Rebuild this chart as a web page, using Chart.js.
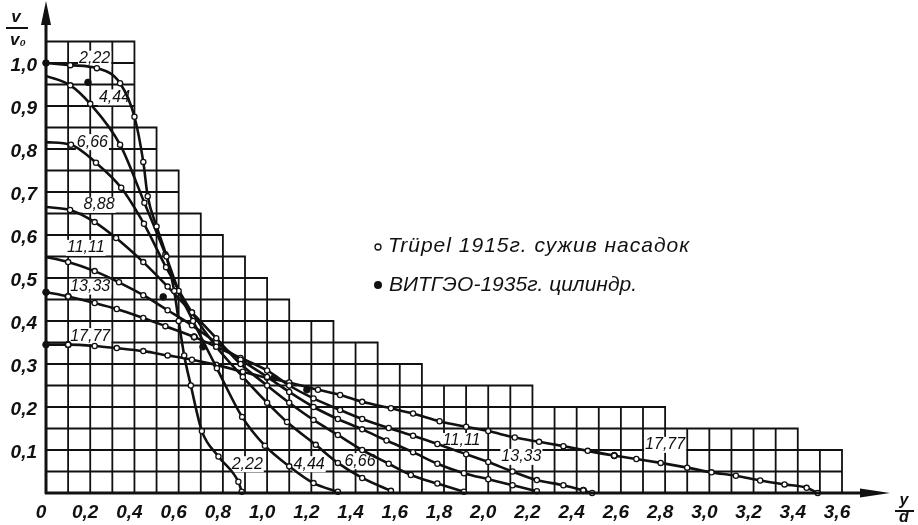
<!DOCTYPE html>
<html>
<head>
<meta charset="utf-8">
<script src="https://cdn.jsdelivr.net/npm/chart.js@4.4.1/dist/chart.umd.min.js"></script>
<style>
html, body { margin: 0; padding: 0; background: #fff; }
#wrap { width: 918px; height: 525px; }
</style>
</head>
<body>
<div id="wrap"><canvas id="chart" width="918" height="525"></canvas></div>
<script>
// velocity profiles v/v0 over y/d, one curve per x/d
const c222 = [[0,1.0],[0.11,0.995],[0.23,0.988],[0.335,0.953],[0.40,0.875],[0.44,0.77],[0.46,0.69],[0.50,0.62],[0.545,0.55],[0.58,0.47],[0.60,0.40],[0.625,0.32],[0.655,0.25],[0.705,0.144],[0.78,0.085],[0.87,0.026],[0.885,0.003]];
const c444 = [[0,0.97],[0.11,0.948],[0.2,0.905],[0.335,0.81],[0.445,0.675],[0.54,0.555],[0.60,0.47],[0.665,0.40],[0.773,0.29],[0.887,0.177],[0.99,0.11],[1.1,0.062],[1.21,0.023],[1.32,0.003]];
const c666 = [[0,0.816],[0.113,0.81],[0.226,0.768],[0.34,0.71],[0.443,0.626],[0.543,0.525],[0.66,0.42],[0.77,0.34],[0.89,0.27],[1.0,0.21],[1.09,0.165],[1.22,0.112],[1.32,0.07],[1.43,0.035],[1.56,0.005]];
const c888 = [[0,0.665],[0.109,0.658],[0.22,0.63],[0.317,0.593],[0.44,0.537],[0.55,0.48],[0.66,0.42],[0.77,0.36],[0.88,0.30],[1.0,0.25],[1.1,0.21],[1.21,0.17],[1.32,0.135],[1.43,0.1],[1.55,0.068],[1.65,0.042],[1.77,0.022],[1.89,0.003]];
const c1111 = [[0,0.549],[0.1,0.537],[0.22,0.516],[0.33,0.49],[0.44,0.46],[0.55,0.425],[0.66,0.39],[0.77,0.35],[0.88,0.31],[1.0,0.27],[1.1,0.235],[1.21,0.2],[1.32,0.172],[1.43,0.148],[1.54,0.122],[1.66,0.095],[1.77,0.068],[1.89,0.046],[2.0,0.032],[2.11,0.018],[2.22,0.004]];
const c1333 = [[0,0.467],[0.1,0.457],[0.22,0.442],[0.32,0.428],[0.44,0.407],[0.54,0.388],[0.67,0.363],[0.77,0.34],[0.88,0.314],[1.0,0.285],[1.1,0.25],[1.21,0.22],[1.33,0.193],[1.43,0.172],[1.55,0.151],[1.66,0.133],[1.77,0.114],[1.9,0.09],[2.0,0.072],[2.11,0.05],[2.22,0.03],[2.34,0.018],[2.43,0.006],[2.47,0.0]];
const c1777 = [[0,0.345],[0.1,0.345],[0.22,0.342],[0.32,0.337],[0.44,0.33],[0.55,0.32],[0.66,0.31],[0.77,0.298],[0.89,0.282],[1.0,0.268],[1.1,0.257],[1.23,0.24],[1.33,0.228],[1.43,0.212],[1.56,0.197],[1.66,0.185],[1.78,0.167],[1.9,0.154],[2.0,0.144],[2.12,0.129],[2.23,0.119],[2.34,0.109],[2.45,0.098],[2.57,0.087],[2.67,0.079],[2.78,0.07],[2.9,0.059],[3.01,0.048],[3.12,0.04],[3.23,0.029],[3.34,0.02],[3.44,0.012],[3.49,0.0]];

const profiles = [c222, c444, c666, c888, c1111, c1333, c1777];
const profileNames = ['2,22', '4,44', '6,66', '8,88', '11,11', '13,33', '17,77'];

// filled dots, VITGEO 1935 cylinder runs
const vitgeo = [[0,1.0],[0.19,0.955],[0,0.467],[0.1,0.457],[0,0.345],[0.1,0.345],[0.53,0.456],[0.67,0.363],[0.71,0.34],[1.03,0.267],[1.18,0.24],[2.57,0.087],[2.43,0.006]];

const legendNames = ['Trüpel 1915г. сужив насадок', 'ВИТГЭО-1935г. цилиндр.'];

// stepped outline of the printed grid: right edge of each step and its top
const stepRight = [0.4, 0.5, 0.6, 0.7, 0.8, 0.9, 1.0, 1.1, 1.3, 1.5, 1.7, 2.2, 2.8, 3.4, 3.6];
const stepTop   = [1.05, 0.85, 0.75, 0.65, 0.6, 0.55, 0.5, 0.45, 0.4, 0.35, 0.3, 0.25, 0.2, 0.15, 0.1];

// curve labels: text and where it sits (y/d, v/v0)
const curveLabels = [
    ['2,22', 0.22, 1.01], ['4,44', 0.31, 0.92], ['6,66', 0.21, 0.816], ['8,88', 0.24, 0.67],
    ['11,11', 0.18, 0.57], ['13,33', 0.2, 0.48], ['17,77', 0.2, 0.365],
    ['2,22', 0.91, 0.067], ['4,44', 1.19, 0.067], ['6,66', 1.42, 0.074],
    ['11,11', 1.88, 0.121], ['13,33', 2.15, 0.084], ['17,77', 2.8, 0.112]
];

const INK = '#111';
const tickFont = { family: '"Liberation Sans", Arial, sans-serif', size: 19, weight: 'bold', style: 'italic' };

function fmt(v) {
    if (Math.abs(v) < 1e-9) return '0';
    return v.toFixed(1).replace('.', ',');
}

const stairGrid = {
    id: 'stairGrid',
    beforeDatasetsDraw(chart) {
        const ctx = chart.ctx;
        const x = chart.scales.x, y = chart.scales.y;
        const topAt = function (v) {
            for (let i = 0; i < stepRight.length; i++) if (v <= stepRight[i] + 1e-6) return stepTop[i];
            return 0;
        };
        const rightAt = function (v) {
            let r = 0;
            for (let i = 0; i < stepRight.length; i++) if (stepTop[i] >= v - 1e-6) r = stepRight[i];
            return r;
        };
        ctx.save();
        ctx.strokeStyle = INK;
        ctx.lineWidth = 1.8;
        ctx.beginPath();
        for (let k = 1; k <= 36; k++) {
            const v = k / 10;
            const px = x.getPixelForValue(v);
            ctx.moveTo(px, y.getPixelForValue(0));
            ctx.lineTo(px, y.getPixelForValue(topAt(v)) - 0.9);
        }
        for (let k = 1; k <= 21; k++) {
            const v = k * 0.05;
            const py = y.getPixelForValue(v);
            ctx.moveTo(x.getPixelForValue(0), py);
            ctx.lineTo(x.getPixelForValue(rightAt(v)) + 0.9, py);
        }
        ctx.stroke();

        // curve labels on white patches
        ctx.font = 'italic 16px "Liberation Sans", Arial, sans-serif';
        ctx.textAlign = 'center';
        ctx.textBaseline = 'middle';
        curveLabels.forEach(function (l) {
            const px = x.getPixelForValue(l[1]), py = y.getPixelForValue(l[2]);
            const w = ctx.measureText(l[0]).width;
            ctx.fillStyle = '#fff';
            ctx.fillRect(px - w / 2 - 1, py - 8, w + 2, 16);
            ctx.fillStyle = INK;
            ctx.fillText(l[0], px, py);
        });
        ctx.restore();
    },
    afterDatasetsDraw(chart) {
        const ctx = chart.ctx;
        const x = chart.scales.x, y = chart.scales.y;
        const x0 = x.getPixelForValue(0), y0 = y.getPixelForValue(0);
        ctx.save();
        ctx.strokeStyle = INK;
        ctx.fillStyle = INK;
        ctx.lineWidth = 3;
        ctx.beginPath();
        ctx.moveTo(x0, y0 + 1);
        ctx.lineTo(x0, 10);
        ctx.moveTo(x0 - 1, y0);
        ctx.lineTo(870, y0);
        ctx.stroke();
        // arrow heads
        ctx.beginPath();
        ctx.moveTo(x0, 1);
        ctx.lineTo(x0 - 5, 25);
        ctx.lineTo(x0 + 5, 25);
        ctx.closePath();
        ctx.fill();
        ctx.beginPath();
        ctx.moveTo(890, y0);
        ctx.lineTo(860, y0 - 4.5);
        ctx.lineTo(860, y0 + 4.5);
        ctx.closePath();
        ctx.fill();

        // axis titles as fractions
        ctx.font = 'italic bold 17px "Liberation Sans", Arial, sans-serif';
        ctx.textAlign = 'center';
        ctx.textBaseline = 'middle';
        ctx.fillText('v', 16, 17);
        ctx.fillText('v₀', 18, 40);
        ctx.lineWidth = 2;
        ctx.beginPath();
        ctx.moveTo(6, 28); ctx.lineTo(28, 28);
        ctx.stroke();
        ctx.font = 'italic bold 16px "Liberation Sans", Arial, sans-serif';
        ctx.fillText('y', 904, 501);
        ctx.fillText('d', 904, 518);
        ctx.beginPath();
        ctx.moveTo(895, 511); ctx.lineTo(914, 511);
        ctx.stroke();

        // legend
        ctx.font = 'italic 21px "Liberation Sans", Arial, sans-serif';
        ctx.textAlign = 'left';
        ctx.lineWidth = 1.3;
        ctx.fillStyle = '#fff';
        ctx.beginPath();
        ctx.arc(378, 247, 3, 0, Math.PI * 2);
        ctx.fill();
        ctx.stroke();
        ctx.fillStyle = INK;
        ctx.letterSpacing = '1px';
        ctx.fillText(legendNames[0], 388, 246);
        ctx.letterSpacing = '0px';
        ctx.beginPath();
        ctx.arc(378, 285, 4, 0, Math.PI * 2);
        ctx.fill();
        ctx.fillText(legendNames[1], 389, 285);
        ctx.restore();
    }
};

const datasets = profiles.map(function (pts, i) {
    return {
        label: profileNames[i],
        data: pts.map(function (p) { return { x: p[0], y: p[1] }; }),
        borderColor: INK,
        borderWidth: 2.6,
        cubicInterpolationMode: 'monotone',
        fill: false,
        clip: 6,
        pointRadius: function (c) { return c.raw && c.raw.x === 0 ? 0 : 2.6; },
        pointBackgroundColor: '#fff',
        pointBorderColor: INK,
        pointBorderWidth: 1.3
    };
});
datasets.push({
    type: 'scatter',
    label: 'ВИТГЭО',
    data: vitgeo.map(function (p) { return { x: p[0], y: p[1] }; }),
    showLine: false,
    clip: 6,
    pointRadius: 3.3,
    pointBackgroundColor: INK,
    pointBorderColor: INK
});

new Chart(document.getElementById('chart'), {
    type: 'line',
    data: { datasets: datasets },
    options: {
        responsive: false,
        animation: false,
        events: [],
        layout: { padding: { left: 0, right: 76, top: 41.5, bottom: 0 } },
        plugins: { legend: { display: false }, tooltip: { enabled: false } },
        scales: {
            x: {
                type: 'linear', min: 0, max: 3.6,
                grid: { display: false, drawTicks: false },
                border: { display: false },
                ticks: { stepSize: 0.2, padding: 8, labelOffset: -5, color: INK, font: tickFont,
                    maxRotation: 0, autoSkip: false, callback: function (v) { return fmt(v); } },
                afterFit: function (s) { s.height = 32; }
            },
            y: {
                type: 'linear', min: 0, max: 1.05,
                grid: { display: false, drawTicks: false },
                border: { display: false },
                ticks: { stepSize: 0.1, includeBounds: false, padding: 9, labelOffset: 3, color: INK, font: tickFont,
                    autoSkip: false, callback: function (v) { return (v < 0.05 || v > 1.001) ? '' : fmt(v); } },
                afterFit: function (s) { s.width = 46; }
            }
        }
    },
    plugins: [stairGrid]
});
</script>
</body>
</html>
